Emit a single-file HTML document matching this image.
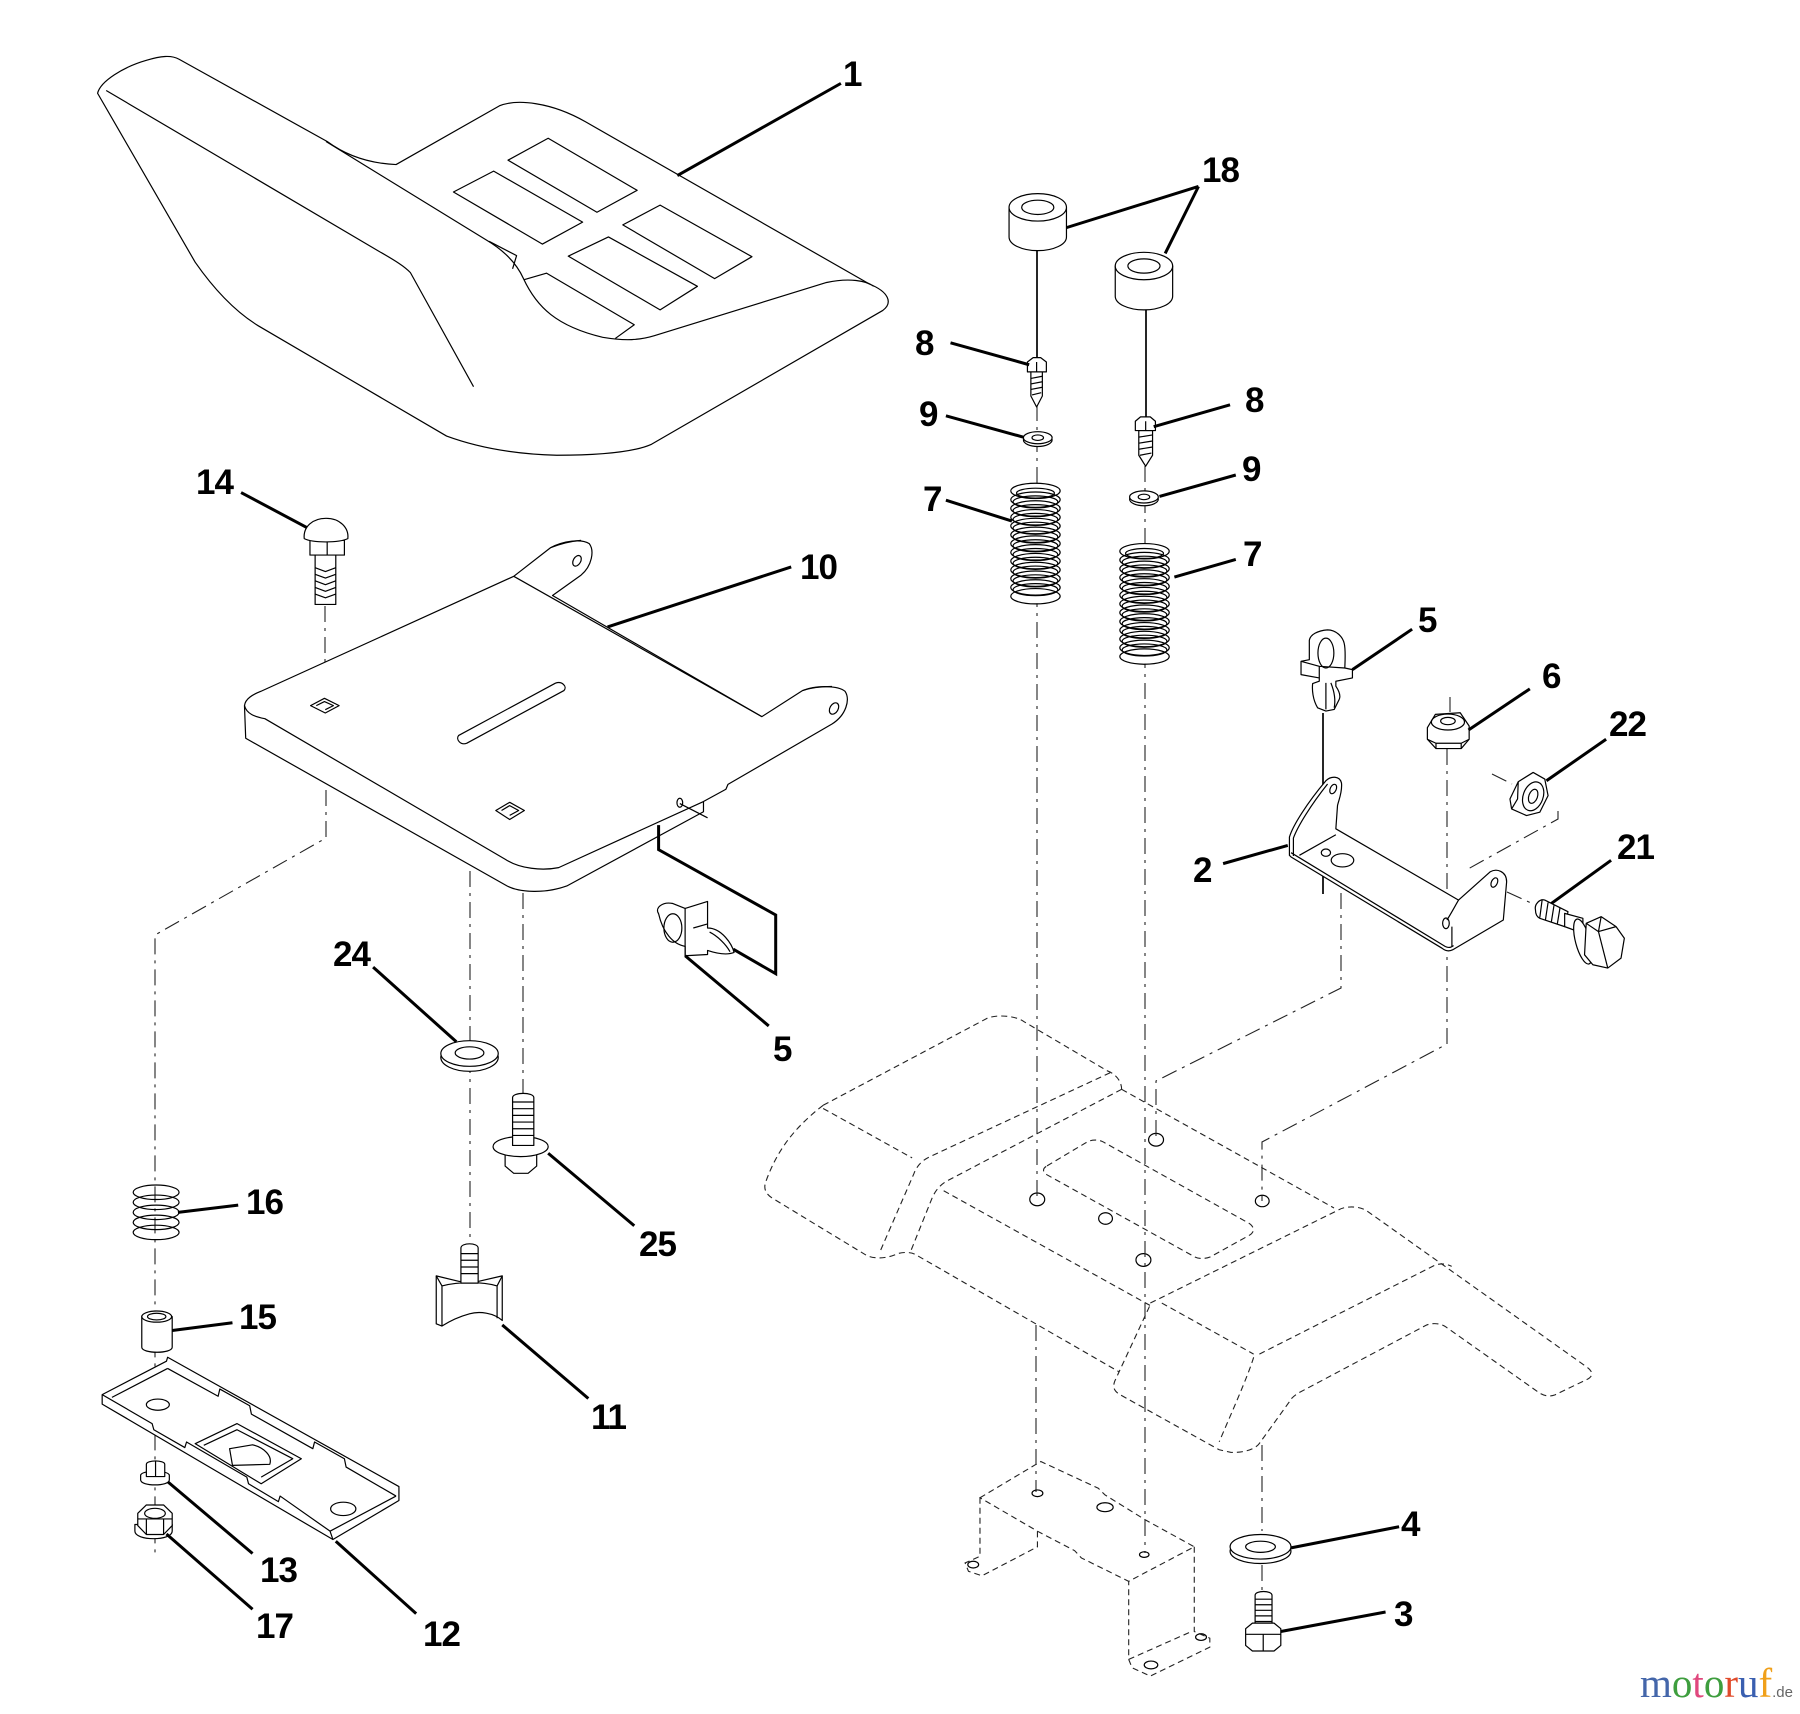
<!DOCTYPE html>
<html><head><meta charset="utf-8"><style>
html,body{margin:0;padding:0;background:#fff;}
svg{display:block}
svg *{vector-effect:non-scaling-stroke}
.p{fill:#fff;stroke:#000;stroke-width:1.2;stroke-linejoin:round}
.n{fill:none;stroke:#000;stroke-width:1.2;stroke-linejoin:round}
.d{fill:none;stroke:#222;stroke-width:1.1;stroke-dasharray:6 4}
.c{fill:none;stroke:#222;stroke-width:1.1;stroke-dasharray:16 6 3 6}
.L{fill:none;stroke:#000;stroke-width:3}
.s{fill:none;stroke:#000;stroke-width:1.7}
text.l{font-family:"Liberation Sans",Arial,sans-serif;font-weight:bold;font-size:35px;fill:#000;letter-spacing:-1px}
</style></head><body>
<svg width="1800" height="1714" viewBox="0 0 1800 1714" xmlns="http://www.w3.org/2000/svg">
<rect width="1800" height="1714" fill="#fff"/>

<!-- ===== SEAT (zoom1 coords) ===== -->
<g transform="scale(0.574,0.5485)">
<path class="p" d="M170,170 C175,148 215,122 255,110 C280,102 298,100 312,108 L570,258 C605,285 645,298 690,300 L870,193 C900,180 960,186 1020,222 L1515,518 C1548,532 1556,552 1538,566 L1135,810 C1105,824 1050,830 970,830 C895,828 830,815 778,795 L450,594 C405,565 368,520 340,478 Z"/>
<path class="n" d="M185,165 L660,458 C690,476 705,486 715,497 L825,705"/>
<path class="n" d="M568,258 L848,438 C880,458 900,480 912,508 C935,560 970,595 1050,615 C1090,622 1115,620 1140,612 L1440,515 C1480,506 1510,512 1522,522"/>
<path class="n" d="M885,292 L955,252 L1110,347 L1040,387 Z"/>
<path class="n" d="M790,350 L860,312 L1015,405 L945,445 Z"/>
<path class="n" d="M1085,410 L1150,374 L1310,468 L1245,508 Z"/>
<path class="n" d="M990,467 L1060,432 L1215,522 L1150,565 Z"/>
<path class="n" d="M913,510 L952,498 L1105,592 L1072,617"/>
<path class="n" d="M852,440 L900,466 L893,490"/>
<path class="L" d="M1465,152 L1180,320"/>
<!-- bolt 14 -->
<path class="p" d="M540,985 L540,1012 L600,1012 L600,985 Z"/>
<path class="n" d="M570,988 L570,1012"/>
<path class="p" d="M530,982 C528,960 545,945 568,945 C592,945 608,962 606,982 C590,990 545,990 530,982 Z"/>
<rect class="p" x="549" y="1012" width="36" height="90"/>
<path class="n" d="M549,1035 L567,1042 L585,1035 M549,1047 L567,1054 L585,1047 M549,1059 L567,1066 L585,1059 M549,1071 L567,1078 L585,1071 M549,1083 L567,1090 L585,1083"/>
<path class="L" d="M420,898 L535,962"/>
</g>

<!-- ===== FENDER (zoom9 coords) ===== -->
<g transform="translate(760,1000) scale(0.574,0.319)">
<path class="d" d="M110,330 L395,58 C410,45 445,48 460,68 L605,222 C620,232 630,255 630,280"/>
<path class="d" d="M610,228 L295,492 C280,505 272,525 268,545 L210,785"/>
<path class="d" d="M630,280 L325,568 C312,582 305,600 300,620 L262,790"/>
<path class="d" d="M110,330 C60,400 30,470 10,570 C5,595 12,612 25,625 L185,800 C198,812 220,812 240,795 C250,790 262,790 270,797 L625,1165"/>
<path class="d" d="M110,340 L265,495"/>
<path class="d" d="M630,280 L1000,652"/>
<path class="d" d="M320,598 L680,958"/>
<path class="d" d="M500,520 L570,445 C578,437 590,437 598,445 L852,700 C862,712 862,728 852,738 L785,805 C775,812 765,812 757,805 L500,548 C492,540 492,528 500,520 Z"/>
<path class="d" d="M680,950 L1008,658 C1020,645 1045,645 1058,662 L1440,1150 C1452,1165 1452,1180 1440,1190 L1385,1238 C1375,1245 1365,1240 1358,1232 L1195,1025 C1185,1012 1170,1012 1160,1020 L940,1230 C930,1240 925,1250 922,1260 L870,1390 C862,1410 840,1420 820,1418 L800,1410 C720,1330 660,1270 625,1235 C615,1222 615,1210 618,1195 L680,955"/>
<path class="d" d="M870,1110 L1175,832 C1185,825 1195,826 1205,835"/>
<path class="d" d="M700,950 L860,1110"/>
<path class="d" d="M860,1120 C850,1180 820,1300 800,1385"/>
<ellipse class="n" cx="483" cy="625" rx="13" ry="20"/>
<ellipse class="n" cx="602" cy="685" rx="12" ry="18"/>
<ellipse class="n" cx="690" cy="438" rx="13" ry="20"/>
<ellipse class="n" cx="875" cy="630" rx="12" ry="18"/>
<ellipse class="n" cx="668" cy="815" rx="13" ry="20"/>
</g>

<!-- ===== CENTERLINES (original coords) ===== -->
<path class="c" d="M325,606 L325,702"/>
<path class="c" d="M326,790 L326,838 L155,935 L155,1553"/>
<path class="c" d="M470,871 L470,1241"/>
<path class="c" d="M523,893 L523,1094"/>
<path class="c" d="M1037,405 L1037,1199"/>
<path class="c" d="M1036,1325 L1036,1492"/>
<path class="c" d="M1145,466 L1145,1553"/>
<path class="c" d="M1341,893 L1341,988 L1156,1081 L1156,1140"/>
<path class="c" d="M1447,749 L1447,1044 L1262,1142 L1262,1201"/>
<path class="c" d="M1262,1445 L1262,1531 M1262,1565 L1262,1590"/>
<path class="c" d="M1450,697 L1450,712"/>
<path class="c" d="M1492,774 L1512,784 M1558,811 L1558,819 L1468,869"/>
<path class="c" d="M1507,892 L1531,903"/>
<path class="s" d="M1037,251 L1037,359"/>
<path class="s" d="M1146,310 L1146,418"/>
<path class="s" d="M1323,713 L1323,894"/>

<!-- ===== PLATE 10 (zoom6 coords) ===== -->
<g transform="translate(220,520) scale(0.408)">
<path class="p" d="M60,455 C62,438 80,428 100,420 L720,138 L810,68 C840,52 885,45 905,58 C918,75 912,112 885,135 L815,185 L1328,482 L1428,418 C1460,405 1515,405 1532,420 C1545,440 1535,478 1500,500 L1245,648 L1240,660 L1185,690 L1185,715 L850,897 C800,915 735,915 700,895 L63,535 Z"/>
<path class="n" d="M720,138 L1328,482"/>
<path class="n" d="M810,68 C830,60 860,52 885,50"/>
<path class="n" d="M1428,418 C1450,410 1480,408 1500,408"/>
<path class="n" d="M60,455 C65,475 85,482 110,487 L700,832 C735,855 790,860 830,852 L1185,690"/>
<path class="n" d="M585,528 L822,400 C838,394 852,408 843,418 L605,547 C590,553 577,538 585,528 Z"/>
<path class="n" d="M222,455 L256,437 L292,455 L258,473 Z M236,455 L256,445 L278,455 L258,465"/>
<path class="n" d="M676,712 L710,692 L746,712 L710,734 Z M690,712 L710,700 L732,712 L710,724"/>
<ellipse class="n" cx="875" cy="100" rx="9" ry="14" transform="rotate(30 875 100)"/>
<ellipse class="n" cx="1505" cy="462" rx="10" ry="15" transform="rotate(30 1505 462)"/>
<ellipse class="n" cx="1127" cy="693" rx="7" ry="11"/>
<path class="n" d="M1127,695 L1195,730"/>
<path class="L" d="M1075,748 L1075,808 L1362,968 L1362,1112 L1258,1052"/>
<!-- clip 5 lower -->
<path class="p" d="M1075,965 C1065,950 1085,935 1110,940 L1140,952 L1195,935 L1195,1000 C1230,1000 1255,1040 1260,1060 C1240,1068 1210,1060 1195,1055 L1195,1065 L1140,1068 L1140,1045 C1110,1040 1085,1010 1075,965 Z"/>
<ellipse class="n" cx="1110" cy="1000" rx="22" ry="35"/>
<path class="n" d="M1140,952 L1140,1068 M1160,1000 L1195,990 M1200,1010 C1220,1020 1240,1040 1250,1058"/>
<path class="L" d="M950,262 L1400,115"/>
<path class="L" d="M1140,1068 L1345,1240"/>
</g>

<!-- ===== LOWER LEFT PARTS (zoom3 coords) ===== -->
<g transform="translate(0,840) scale(0.574,0.5574)">
<!-- washer 24 -->
<ellipse class="p" cx="818" cy="390" rx="50" ry="25"/>
<ellipse class="p" cx="818" cy="383" rx="50" ry="23"/>
<ellipse class="n" cx="818" cy="382" rx="25" ry="11"/>
<path class="L" d="M650,228 L795,362"/>
<!-- bolt 25 -->
<path class="p" d="M880,560 L880,585 L895,598 L920,598 L935,585 L935,560 Z"/>
<ellipse class="p" cx="907" cy="550" rx="48" ry="18"/>
<path class="p" d="M893,548 L893,462 C893,452 930,452 930,462 L930,548 Z"/>
<path class="n" d="M893,470 L930,470 M893,482 L930,482 M893,494 L930,494 M893,506 L930,506 M893,518 L930,518 M893,530 L930,530"/>
<path class="L" d="M955,562 L1105,692"/>
<!-- knob 11 -->
<path class="p" d="M760,782 L800,792 L833,792 L875,782 L875,862 C860,848 835,845 818,850 C800,855 785,862 770,872 L760,868 Z"/>
<path class="n" d="M760,782 L770,800 L770,872 M770,800 C800,792 840,792 866,800 L875,782 M866,800 L866,858"/>
<path class="p" d="M803,795 L803,732 C803,722 833,722 833,732 L833,795 Z"/>
<path class="n" d="M803,742 L833,742 M803,754 L833,754 M803,766 L833,766 M803,778 L833,778"/>
<path class="L" d="M875,870 L1025,1002"/>
<!-- spring 16 -->
<ellipse class="n" cx="272" cy="632" rx="40" ry="13"/>
<ellipse class="n" cx="272" cy="650" rx="40" ry="13"/>
<ellipse class="n" cx="272" cy="668" rx="40" ry="13"/>
<ellipse class="n" cx="272" cy="686" rx="40" ry="13"/>
<ellipse class="n" cx="272" cy="704" rx="40" ry="13"/>
<path class="L" d="M310,668 L415,655"/>
<!-- bushing 15 -->
<path class="p" d="M247,855 L247,910 C247,922 300,922 300,910 L300,855 Z"/>
<ellipse class="p" cx="273" cy="855" rx="26" ry="10"/>
<ellipse class="n" cx="273" cy="855" rx="16" ry="6"/>
<path class="L" d="M300,880 L405,866"/>
<!-- plate 12 -->
<path class="p" d="M178,995 L290,935 L292,928 L695,1160 L695,1185 L580,1255 L178,1012 Z"/>
<path class="n" d="M178,995 L265,1047 L268,1058 L322,1090 L325,1080 L430,1143 L433,1155 L485,1187 L488,1177 L575,1240 L580,1255"/>
<path class="n" d="M292,948 L380,998 L383,985 L435,1015 L438,1030 L545,1092 L548,1080 L600,1110 L603,1125 L690,1177"/>
<path class="n" d="M195,1000 L292,948"/>
<path class="n" d="M575,1240 L690,1177"/>
<ellipse class="n" cx="275" cy="1013" rx="20" ry="10"/>
<ellipse class="n" cx="598" cy="1200" rx="22" ry="12"/>
<path class="n" d="M340,1083 L413,1047 L525,1110 L455,1155 Z"/>
<path class="n" d="M355,1086 L413,1058 L510,1110 L455,1143"/>
<path class="n" d="M400,1092 L440,1085 C460,1090 475,1105 470,1120 L405,1122 Z"/>
<path class="L" d="M585,1258 L725,1388"/>
<!-- 13 -->
<path class="p" d="M245,1140 L245,1148 C245,1160 295,1160 295,1148 L295,1140 C295,1130 245,1130 245,1140 Z"/>
<path class="p" d="M255,1142 L255,1120 C255,1112 287,1112 287,1120 L287,1142 Z"/>
<path class="n" d="M271,1115 L271,1142"/>
<path class="L" d="M293,1152 L440,1280"/>
<!-- 17 -->
<path class="p" d="M235,1228 L235,1240 C235,1258 300,1258 300,1240 L300,1228 Z"/>
<path class="p" d="M240,1208 L255,1193 L285,1193 L300,1208 L300,1230 L285,1246 L255,1246 L240,1230 Z"/>
<ellipse class="n" cx="270" cy="1208" rx="18" ry="9"/>
<path class="n" d="M255,1218 L255,1246 M285,1218 L285,1246 M240,1218 L300,1218"/>
<path class="L" d="M290,1245 L440,1380"/>
</g>

<!-- ===== LOWER RIGHT (zoom4 coords) ===== -->
<g transform="translate(740,840) scale(0.676,0.5574)">
<path class="d" d="M355,1180 L445,1115 L530,1163 L540,1175 L600,1220 L672,1268 L575,1330 L505,1288 L495,1275 L440,1240 L355,1180 Z"/>
<path class="d" d="M355,1180 L355,1285 L333,1297 L338,1312 L358,1320 L440,1268 L440,1240"/>
<path class="d" d="M672,1268 L672,1420 L695,1432 L695,1448 L607,1500 L580,1485 L575,1470 L575,1330"/>
<path class="d" d="M575,1470 L668,1420"/>
<ellipse class="n" cx="440" cy="1172" rx="8" ry="6"/>
<ellipse class="n" cx="540" cy="1197" rx="12" ry="8"/>
<ellipse class="n" cx="598" cy="1282" rx="7" ry="5"/>
<ellipse class="n" cx="345" cy="1300" rx="8" ry="6"/>
<ellipse class="n" cx="608" cy="1480" rx="10" ry="7"/>
<ellipse class="n" cx="682" cy="1430" rx="8" ry="6"/>
<!-- washer 4 -->
<ellipse class="p" cx="770" cy="1276" rx="45" ry="22"/>
<ellipse class="p" cx="770" cy="1268" rx="45" ry="22"/>
<ellipse class="n" cx="770" cy="1268" rx="22" ry="10"/>
<path class="L" d="M815,1270 L975,1232"/>
<!-- bolt 3 -->
<path class="p" d="M762,1412 L762,1355 C762,1346 787,1346 787,1355 L787,1412 Z"/>
<path class="n" d="M762,1362 L787,1362 M762,1372 L787,1372 M762,1382 L787,1382 M762,1392 L787,1392 M762,1402 L787,1402"/>
<path class="p" d="M748,1415 L748,1445 L758,1455 L790,1455 L800,1445 L800,1415 L790,1405 L758,1405 Z"/>
<path class="n" d="M748,1425 L800,1425 M774,1425 L774,1455"/>
<path class="L" d="M800,1420 L955,1385"/>
</g>

<!-- ===== UPPER RIGHT (zoom2 coords) ===== -->
<g transform="translate(900,0) scale(0.574,0.5485)">
<!-- spacer 18 left -->
<path class="p" d="M190,378 L190,432 A50,25 0 0 0 290,432 L290,378 Z"/>
<ellipse class="p" cx="240" cy="378" rx="50" ry="25"/>
<ellipse class="n" cx="240" cy="378" rx="28" ry="13"/>
<!-- spacer 18 right -->
<path class="p" d="M375,485 L375,540 A50,25 0 0 0 475,540 L475,485 Z"/>
<ellipse class="p" cx="425" cy="485" rx="50" ry="25"/>
<ellipse class="n" cx="425" cy="485" rx="28" ry="13"/>
<path class="L" d="M520,340 L290,415 M520,340 L462,462"/>
<!-- screw 8 left -->
<path class="p" d="M228,678 L228,722 L238,742 L248,722 L248,678 Z"/>
<path class="n" d="M228,690 L248,686 M228,700 L248,696 M228,710 L248,706 M230,720 L246,716"/>
<path class="p" d="M222,660 L222,678 L255,678 L255,660 L245,652 L232,652 Z"/>
<path class="n" d="M238,660 L238,678"/>
<path class="L" d="M88,625 L225,665"/>
<!-- screw 8 right -->
<path class="p" d="M416,785 L416,830 L428,850 L440,830 L440,785 Z"/>
<path class="n" d="M416,797 L440,793 M416,808 L440,804 M416,819 L440,815 M418,830 L438,826"/>
<path class="p" d="M410,768 L410,785 L445,785 L445,768 L436,760 L419,760 Z"/>
<path class="n" d="M428,768 L428,785"/>
<path class="L" d="M442,778 L575,738"/>
<!-- washers 9 -->
<ellipse class="p" cx="240" cy="802" rx="25" ry="12"/>
<ellipse class="p" cx="240" cy="798" rx="25" ry="11"/>
<ellipse class="n" cx="240" cy="798" rx="10" ry="5"/>
<path class="L" d="M80,758 L215,797"/>
<ellipse class="p" cx="425" cy="910" rx="25" ry="12"/>
<ellipse class="p" cx="425" cy="906" rx="25" ry="11"/>
<ellipse class="n" cx="425" cy="906" rx="10" ry="5"/>
<path class="L" d="M452,905 L585,866"/>
<!-- spring 7 left -->
<rect x="193" y="890" width="86" height="210" fill="#fff"/>
<ellipse class="n" cx="236" cy="895" rx="43" ry="14"/><ellipse class="n" cx="236" cy="899" rx="33" ry="9"/>
<ellipse class="n" cx="236" cy="911" rx="43" ry="14"/><ellipse class="n" cx="236" cy="915" rx="39" ry="11"/>
<ellipse class="n" cx="236" cy="927" rx="43" ry="14"/><ellipse class="n" cx="236" cy="931" rx="39" ry="11"/>
<ellipse class="n" cx="236" cy="943" rx="43" ry="14"/><ellipse class="n" cx="236" cy="947" rx="39" ry="11"/>
<ellipse class="n" cx="236" cy="959" rx="43" ry="14"/><ellipse class="n" cx="236" cy="963" rx="39" ry="11"/>
<ellipse class="n" cx="236" cy="975" rx="43" ry="14"/><ellipse class="n" cx="236" cy="979" rx="39" ry="11"/>
<ellipse class="n" cx="236" cy="991" rx="43" ry="14"/><ellipse class="n" cx="236" cy="995" rx="39" ry="11"/>
<ellipse class="n" cx="236" cy="1007" rx="43" ry="14"/><ellipse class="n" cx="236" cy="1011" rx="39" ry="11"/>
<ellipse class="n" cx="236" cy="1023" rx="43" ry="14"/><ellipse class="n" cx="236" cy="1027" rx="39" ry="11"/>
<ellipse class="n" cx="236" cy="1039" rx="43" ry="14"/><ellipse class="n" cx="236" cy="1043" rx="39" ry="11"/>
<ellipse class="n" cx="236" cy="1055" rx="43" ry="14"/><ellipse class="n" cx="236" cy="1059" rx="39" ry="11"/>
<ellipse class="n" cx="236" cy="1071" rx="43" ry="14"/><ellipse class="n" cx="236" cy="1075" rx="39" ry="11"/>
<ellipse class="n" cx="236" cy="1087" rx="43" ry="14"/>
<path class="L" d="M80,912 L195,950"/>
<!-- spring 7 right -->
<rect x="383" y="1000" width="86" height="210" fill="#fff"/>
<ellipse class="n" cx="426" cy="1005" rx="43" ry="14"/><ellipse class="n" cx="426" cy="1009" rx="33" ry="9"/>
<ellipse class="n" cx="426" cy="1021" rx="43" ry="14"/><ellipse class="n" cx="426" cy="1025" rx="39" ry="11"/>
<ellipse class="n" cx="426" cy="1037" rx="43" ry="14"/><ellipse class="n" cx="426" cy="1041" rx="39" ry="11"/>
<ellipse class="n" cx="426" cy="1053" rx="43" ry="14"/><ellipse class="n" cx="426" cy="1057" rx="39" ry="11"/>
<ellipse class="n" cx="426" cy="1069" rx="43" ry="14"/><ellipse class="n" cx="426" cy="1073" rx="39" ry="11"/>
<ellipse class="n" cx="426" cy="1085" rx="43" ry="14"/><ellipse class="n" cx="426" cy="1089" rx="39" ry="11"/>
<ellipse class="n" cx="426" cy="1101" rx="43" ry="14"/><ellipse class="n" cx="426" cy="1105" rx="39" ry="11"/>
<ellipse class="n" cx="426" cy="1117" rx="43" ry="14"/><ellipse class="n" cx="426" cy="1121" rx="39" ry="11"/>
<ellipse class="n" cx="426" cy="1133" rx="43" ry="14"/><ellipse class="n" cx="426" cy="1137" rx="39" ry="11"/>
<ellipse class="n" cx="426" cy="1149" rx="43" ry="14"/><ellipse class="n" cx="426" cy="1153" rx="39" ry="11"/>
<ellipse class="n" cx="426" cy="1165" rx="43" ry="14"/><ellipse class="n" cx="426" cy="1169" rx="39" ry="11"/>
<ellipse class="n" cx="426" cy="1181" rx="43" ry="14"/><ellipse class="n" cx="426" cy="1185" rx="39" ry="11"/>
<ellipse class="n" cx="426" cy="1197" rx="43" ry="14"/>
<path class="L" d="M478,1052 L585,1020"/>
</g>

<!-- ===== BRACKET 2 AREA (zoom5 coords) ===== -->
<g transform="translate(1180,600) scale(0.3316)">
<!-- clip 5 upper -->
<path class="p" d="M390,180 L390,122 C392,105 415,92 445,90 C470,90 490,110 495,130 C500,150 498,180 497,205 L520,210 L520,235 L470,245 L470,260 C480,275 485,290 480,300 L465,330 L440,335 L415,325 C400,300 398,270 400,252 L420,245 L420,235 L365,225 L365,185 Z"/>
<ellipse class="n" cx="440" cy="160" rx="24" ry="45"/>
<path class="n" d="M365,185 L420,200 L497,205 M420,200 L420,235 M440,250 L440,330 M455,250 C465,275 470,300 465,325"/>
<path class="L" d="M520,210 L700,88"/>
<!-- bracket 2 -->
<path class="p" d="M330,770 L330,715 C340,680 385,610 440,545 C455,530 482,530 487,552 C490,580 478,605 475,620 L470,690 L840,905 L935,820 C955,808 985,818 985,850 L975,965 L822,1055 C812,1060 800,1058 790,1050 L335,775 Z"/>
<path class="n" d="M342,772 L342,718 C355,682 395,618 445,555"/>
<path class="n" d="M360,770 L470,708"/>
<path class="n" d="M335,762 L800,1045 C810,1050 818,1048 825,1042"/>
<path class="n" d="M805,965 C815,950 830,922 840,905"/>
<path class="n" d="M820,1045 L820,985"/>
<ellipse class="n" cx="440" cy="762" rx="14" ry="11"/>
<ellipse class="n" cx="490" cy="785" rx="34" ry="20"/>
<ellipse class="n" cx="462" cy="570" rx="9" ry="15" transform="rotate(25 462 570)"/>
<ellipse class="n" cx="948" cy="852" rx="9" ry="15" transform="rotate(25 948 852)"/>
<ellipse class="n" cx="802" cy="975" rx="10" ry="16"/>
<path class="L" d="M130,795 L325,740"/>
<!-- nut 6 -->
<path class="p" d="M746,385 L770,345 L845,340 L872,380 L872,420 L848,448 L772,448 L746,420 Z"/>
<path class="n" d="M746,420 L772,432 L848,432 L872,420 M772,432 L772,448 M848,432 L848,448"/>
<ellipse class="n" cx="808" cy="368" rx="50" ry="24"/>
<ellipse class="n" cx="808" cy="365" rx="22" ry="11"/>
<path class="L" d="M870,392 L1055,268"/>
<!-- nut 22 -->
<path class="p" d="M995,600 L1020,548 L1065,520 L1100,540 L1110,590 L1085,640 L1045,650 L1000,630 Z"/>
<ellipse class="n" cx="1065" cy="592" rx="30" ry="45" transform="rotate(20 1065 592)"/>
<ellipse class="n" cx="1065" cy="592" rx="13" ry="22" transform="rotate(20 1065 592)"/>
<path class="n" d="M1000,630 L1018,600 L1020,548"/>
<path class="L" d="M1105,545 L1285,420"/>
<!-- bolt 21 -->
<path class="p" d="M1072,935 C1068,918 1085,900 1100,905 L1170,940 L1160,985 L1085,960 C1075,955 1072,945 1072,935 Z"/>
<path class="n" d="M1092,905 L1085,958 M1110,912 L1102,965 M1128,920 L1120,970 M1146,928 L1138,976"/>
<path class="p" d="M1160,945 L1215,960 L1215,1005 L1160,985 Z"/>
<ellipse class="p" cx="1215" cy="1030" rx="22" ry="70" transform="rotate(-15 1215 1030)"/>
<path class="p" d="M1225,975 L1270,955 L1315,985 L1340,1020 L1330,1080 L1290,1110 L1245,1100 L1220,1070 Z"/>
<path class="n" d="M1270,955 L1262,1000 L1290,1110 M1262,1000 L1225,975 M1262,1000 L1315,985"/>
<path class="L" d="M1120,915 L1300,785"/>
</g>

<!-- ===== LABELS ===== -->
<text class="l" x="843" y="86">1</text>
<text class="l" x="1202" y="182">18</text>
<text class="l" x="915" y="355">8</text>
<text class="l" x="1245" y="412">8</text>
<text class="l" x="919" y="426">9</text>
<text class="l" x="1242" y="481">9</text>
<text class="l" x="923" y="511">7</text>
<text class="l" x="1243" y="566">7</text>
<text class="l" x="196" y="494">14</text>
<text class="l" x="800" y="579">10</text>
<text class="l" x="1418" y="632">5</text>
<text class="l" x="1542" y="688">6</text>
<text class="l" x="1609" y="736">22</text>
<text class="l" x="1617" y="859">21</text>
<text class="l" x="1193" y="882">2</text>
<text class="l" x="333" y="966">24</text>
<text class="l" x="773" y="1061">5</text>
<text class="l" x="246" y="1214">16</text>
<text class="l" x="639" y="1256">25</text>
<text class="l" x="239" y="1329">15</text>
<text class="l" x="591" y="1429">11</text>
<text class="l" x="1401" y="1536">4</text>
<text class="l" x="260" y="1582">13</text>
<text class="l" x="1394" y="1626">3</text>
<text class="l" x="256" y="1638">17</text>
<text class="l" x="423" y="1646">12</text>

<!-- watermark -->
<text x="1640" y="1697" style="font-family:'Liberation Serif',serif;font-size:41px"><tspan fill="#4466aa">m</tspan><tspan fill="#3e9e3e">o</tspan><tspan fill="#e0487e">t</tspan><tspan fill="#3e9e3e">o</tspan><tspan fill="#e04a2a">r</tspan><tspan fill="#3a5fb0">u</tspan><tspan fill="#f0a01a">f</tspan><tspan fill="#666" style="font-family:'Liberation Sans',sans-serif;font-size:15px">.de</tspan></text>
</svg>
</body></html>
